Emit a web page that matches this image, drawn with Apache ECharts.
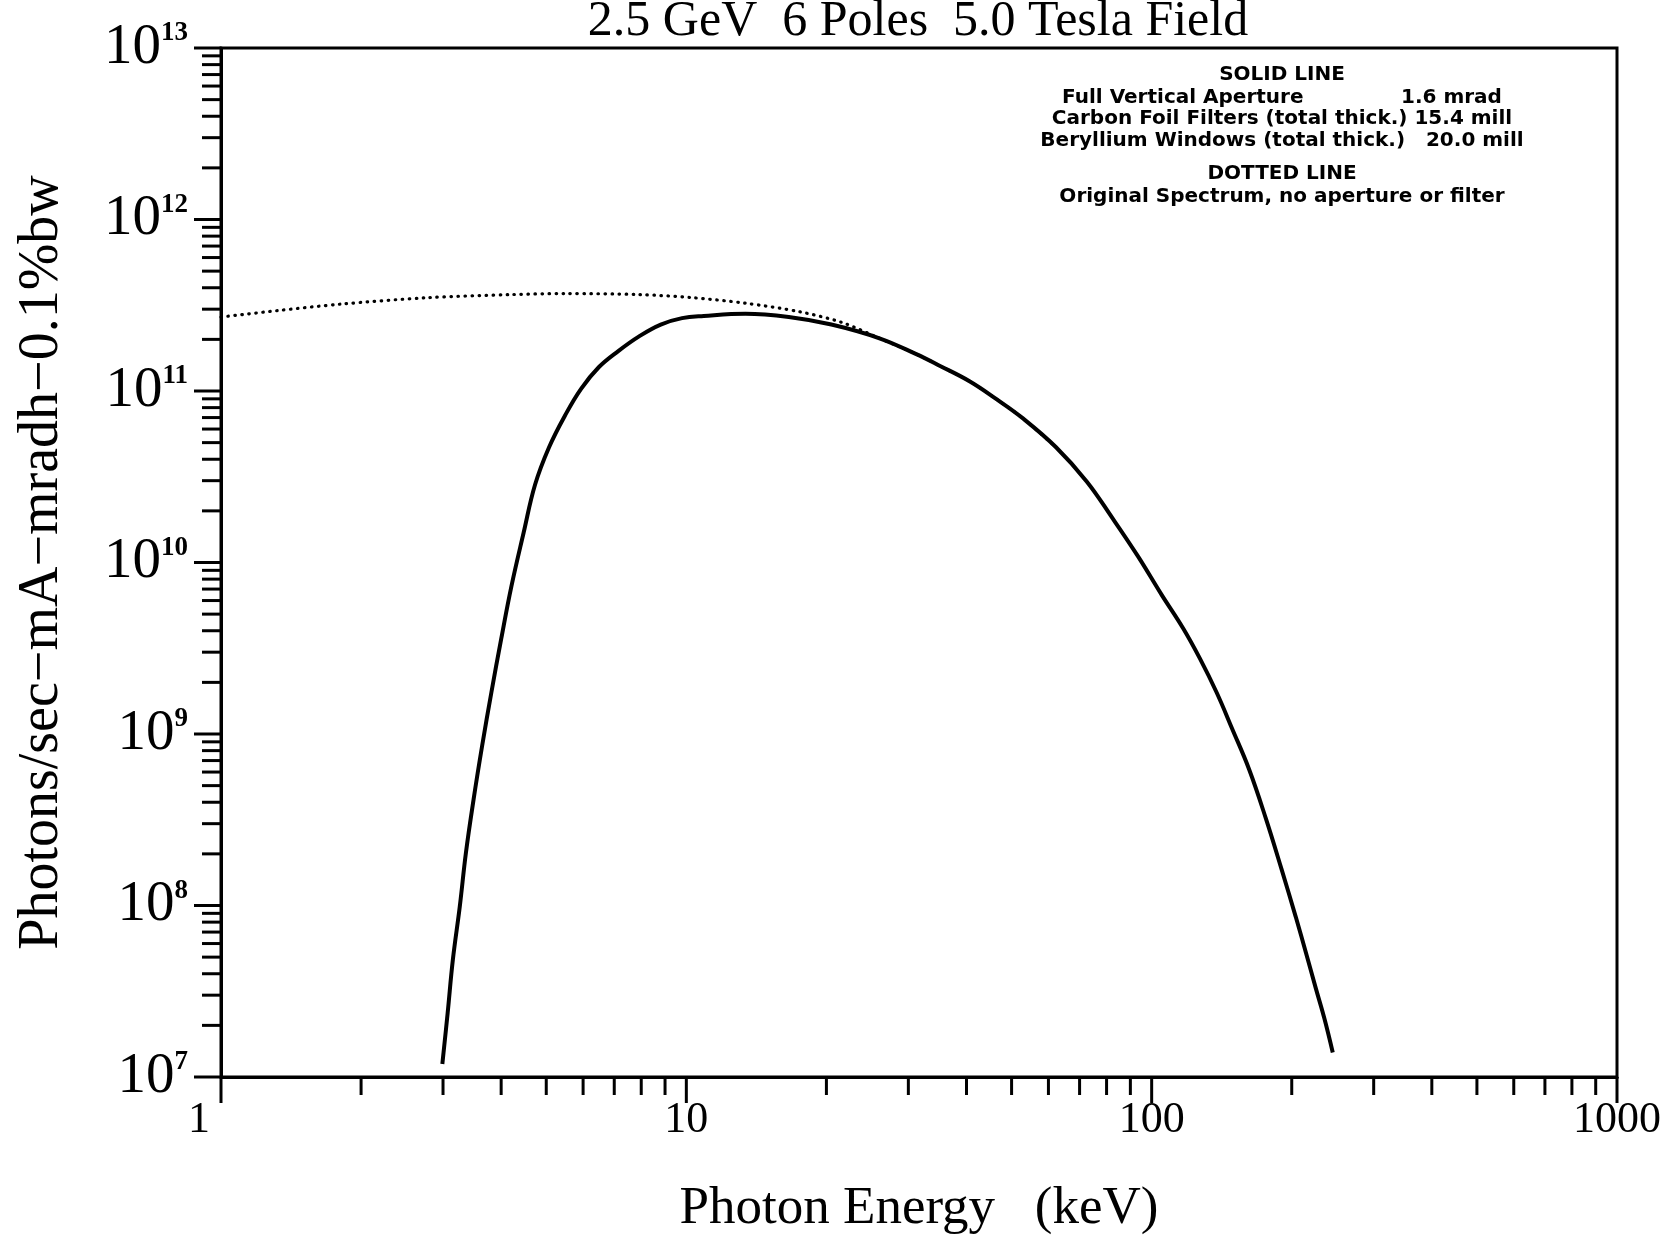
<!DOCTYPE html>
<html>
<head>
<meta charset="utf-8">
<title>2.5 GeV 6 Poles 5.0 Tesla Field</title>
<script src="https://cdn.jsdelivr.net/npm/echarts@6/dist/echarts.min.js"></script>
<style>
	html, body { margin: 0; padding: 0; background: #fff; }
	#myChart { width: 1672px; height: 1238px; }
</style>
</head>
<body>
<div id="myChart"></div>
<script>
	// photon energy (keV) and flux (photons/sec-mA-mradh-0.1%bw)
	var solidEnergy = [2.99, 3.07, 3.15, 3.26, 3.36, 3.49, 3.64, 3.81, 4.00, 4.21, 4.47, 4.73, 5.07, 5.49, 5.94, 6.49, 7.14, 7.93, 8.81, 9.79, 10.9, 13.4, 16.6, 20.5,
		26.0, 31.2, 35.1, 40.6, 46.4, 52.9, 62.3, 72.5, 82.3, 93.4, 105, 117, 127, 138, 149, 162, 176, 190, 204, 215, 225, 235, 245];
	var solidFlux = [1.19e7, 2.37e7, 4.84e7, 9.9e7, 2.03e8, 4.16e8, 8.51e8, 1.74e9, 3.57e9, 7.3e9, 1.49e10, 2.84e10, 4.7e10, 7.22e10, 1.03e11, 1.38e11, 1.71e11, 2.09e11, 2.44e11, 2.66e11, 2.74e11, 2.82e11, 2.7e11, 2.44e11,
		2.03e11, 1.64e11, 1.4e11, 1.14e11, 8.96e10, 6.92e10, 4.7e10, 2.97e10, 1.82e10, 1.09e10, 6.5e9, 4.11e9, 2.75e9, 1.74e9, 1.07e9, 6.21e8, 3.21e8, 1.64e8, 8.59e7, 5.2e7, 3.33e7, 2.2e7, 1.39e7];
	var dottedEnergy = [1.0, 1.32, 1.81, 2.77, 4.21, 5.49, 7.93, 10.3, 13.4, 17.5, 21.6, 26.0, 31.2, 35.1, 40.6, 46.4, 52.9, 62.3];
	var dottedFlux = [2.7e11, 2.94e11, 3.21e11, 3.5e11, 3.65e11, 3.7e11, 3.65e11, 3.5e11, 3.25e11, 2.9e11, 2.51e11, 2.03e11, 1.64e11, 1.4e11, 1.14e11, 8.96e10, 6.92e10, 4.7e10];

	// axis ticks
	var xDecades = [1, 10, 100];
	var yDecades = [1e7, 1e8, 1e9, 1e10, 1e11, 1e12];
	var mantissas = [1, 2, 3, 4, 5, 6, 7, 8, 9];
	var xMin = 1, xMax = 1000, yMin = 1e7, yMax = 1e13;

	var legendLines = [
		'SOLID LINE',
		'Full Vertical Aperture              1.6 mrad',
		'Carbon Foil Filters (total thick.) 15.4 mill',
		'Beryllium Windows (total thick.)   20.0 mill',
		'DOTTED LINE',
		'Original Spectrum, no aperture or filter'
	];

	function pairs(xs, ys) {
		var out = [];
		for (var i = 0; i < xs.length; i++) out.push([xs[i], ys[i]]);
		return out;
	}

	function tickList(decades, last) {
		var out = [];
		for (var i = 0; i < decades.length; i++) {
			for (var j = 0; j < mantissas.length; j++) {
				out.push([decades[i] * mantissas[j], j == 0 ? 1 : 0]);
			}
		}
		out.push([last, 1]);
		return out;
	}

	var xTicks = tickList(xDecades, xMax);
	var yTicks = tickList(yDecades, yMax);

	var serif = "'Liberation Serif', 'DejaVu Serif', serif";

	// legend block in the upper right, centred lines
	var legendGraphics = [];
	var legendY = [75, 98, 119, 141, 174, 197];
	for (var k = 0; k < legendLines.length; k++) {
		legendGraphics.push({
			type: 'text',
			x: 1282, y: legendY[k],
			style: {
				text: legendLines[k],
				fill: '#000',
				font: "bold 20px 'DejaVu Sans', 'Liberation Sans', sans-serif",
				textAlign: 'center',
				textVerticalAlign: 'middle'
			}
		});
	}
	// title, partly cut by the top edge as in the scan
	legendGraphics.push({
		type: 'text',
		x: 918, y: 22,
		style: {
			text: '2.5 GeV  6 Poles  5.0 Tesla Field',
			fill: '#000',
			font: "50px 'Liberation Serif', 'DejaVu Serif', serif",
			textAlign: 'center',
			textVerticalAlign: 'middle'
		}
	});

	var option = {
		backgroundColor: '#fff',
		animation: false,
		grid: {
			left: 221, right: 55, top: 48, bottom: 161,
			outerBoundsMode: 'none',
			containLabel: false,
			show: true, borderColor: '#000', borderWidth: 3, backgroundColor: '#fff'
		},
		xAxis: {
			type: 'log', logBase: 10, min: xMin, max: xMax,
			name: 'Photon Energy   (keV)',
			nameLocation: 'middle', nameGap: 106,
			nameTextStyle: { fontFamily: serif, fontSize: 53, color: '#000' },
			axisLine: { lineStyle: { color: '#000', width: 3 } },
			axisTick: { show: false },
			splitLine: { show: false },
			axisLabel: {
				margin: 21,
				color: '#000',
				fontFamily: serif,
				fontSize: 44,
				formatter: function(v) {
					// the "1" sits a bit left of its tick in the original
					return v == 1 ? '{one|1}' : String(v);
				},
				rich: { one: { fontFamily: serif, fontSize: 44, color: '#000', padding: [0, 44, 0, 0] } }
			}
		},
		yAxis: {
			type: 'log', logBase: 10, min: yMin, max: yMax,
			name: 'Photons/sec\u2212mA\u2212mradh\u22120.1%bw',
			nameLocation: 'middle', nameGap: 151,
			nameTextStyle: { fontFamily: serif, fontSize: 56, color: '#000' },
			axisLine: { lineStyle: { color: '#000', width: 3 } },
			axisTick: { show: false },
			splitLine: { show: false },
			axisLabel: {
				margin: 33,
				formatter: function(v) {
					var e = Math.round(Math.log(v) / Math.LN10);
					return '{b|10}{s|' + e + '}';
				},
				rich: {
					b: { fontFamily: serif, fontSize: 57, color: '#000', lineHeight: 56 },
					s: { fontFamily: serif, fontSize: 27, fontWeight: 'bold', color: '#000', verticalAlign: 'top', lineHeight: 56 }
				}
			}
		},
		graphic: legendGraphics,
		series: [
			{
				name: 'Original Spectrum',
				type: 'line',
				data: pairs(dottedEnergy, dottedFlux),
				symbol: 'none',
				smooth: 0.3,
				lineStyle: { color: '#000', width: 3.2, type: [0.5, 6.5], cap: 'round' },
				z: 3
			},
			{
				name: 'Filtered',
				type: 'line',
				data: pairs(solidEnergy, solidFlux),
				symbol: 'none',
				smooth: 0.4,
				lineStyle: { color: '#000', width: 4 },
				z: 4
			},
			{
				// x axis ticks, drawn below the axis
				type: 'custom',
				clip: false,
				silent: true,
				data: xTicks,
				renderItem: function(params, api) {
					var p = api.coord([api.value(0), yMin]);
					var len = api.value(1) ? 26 : 18;
					return {
						type: 'line',
						shape: { x1: p[0], y1: p[1], x2: p[0], y2: p[1] + len },
						style: { stroke: '#000', lineWidth: 3 }
					};
				},
				z: 5
			},
			{
				// y axis ticks, drawn left of the axis
				type: 'custom',
				clip: false,
				silent: true,
				data: yTicks.map(function(t) { return [xMin, t[0], t[1]]; }),
				encode: { x: 0, y: 1 },
				renderItem: function(params, api) {
					var p = api.coord([xMin, api.value(1)]);
					var len = api.value(2) ? 27 : 19;
					return {
						type: 'line',
						shape: { x1: p[0], y1: p[1], x2: p[0] - len, y2: p[1] },
						style: { stroke: '#000', lineWidth: 3 }
					};
				},
				z: 5
			}
		]
	};

	var myChart = echarts.init(document.getElementById('myChart'));
	myChart.setOption(option);
</script>
</body>
</html>
